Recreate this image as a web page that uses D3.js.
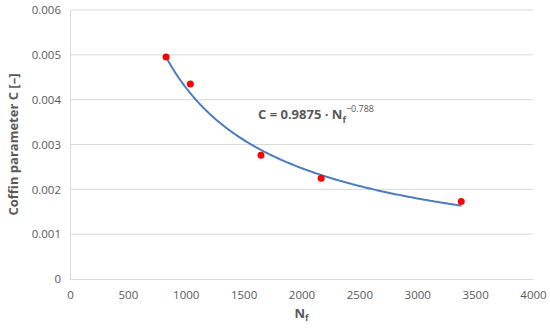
<!DOCTYPE html>
<html>
<head>
<meta charset="utf-8">
<script src="https://cdn.jsdelivr.net/npm/d3@7"></script>
<style>
  body { margin: 0; background: #fff; }
  svg text { font-family: "Open Sans", "Liberation Sans", sans-serif; }
</style>
</head>
<body>
<svg id="chart" width="550" height="331"></svg>
<script>
// measured points
const nf = [830, 1040, 1650, 2170, 3380]
const coffinC = [0.00495, 0.00435, 0.00276, 0.00225, 0.00173]
// trendline from the equation shown on the chart
const fitA = 0.9875
const fitB = -0.788
const xTicks = [0, 500, 1000, 1500, 2000, 2500, 3000, 3500, 4000]
const yTicks = [0, 0.001, 0.002, 0.003, 0.004, 0.005, 0.006]

const margin = {top: 10, right: 17, bottom: 52, left: 70}
const width = 550 - margin.left - margin.right
const height = 331 - margin.top - margin.bottom

const svg = d3.select('#chart')
const g = svg.append('g').attr('transform', `translate(${margin.left},${margin.top})`)

const x = d3.scaleLinear().domain([0, 4000]).range([0, width])
const y = d3.scaleLinear().domain([0, 0.006]).range([height, 0])

// gridlines
g.selectAll('.grid').data(yTicks.filter(d => d > 0))
  .enter().append('line')
  .attr('x1', 0).attr('x2', width)
  .attr('y1', d => y(d)).attr('y2', d => y(d))
  .attr('stroke', '#d9d9d9').attr('stroke-width', 1)

// axes
const xAxis = g.append('g').attr('transform', `translate(0,${height})`)
  .call(d3.axisBottom(x).tickValues(xTicks).tickSize(0).tickPadding(12).tickFormat(d3.format('d')))
const yAxis = g.append('g')
  .call(d3.axisLeft(y).tickValues(yTicks).tickSize(0).tickPadding(9).tickFormat(d => d === 0 ? '0' : d3.format('.3f')(d)))

;[xAxis, yAxis].forEach(a => {
  a.select('.domain').attr('stroke', '#d9d9d9').attr('stroke-width', 1)
  a.selectAll('text').attr('fill', '#595959').style('font-size', '11.5px')
})

// fit curve
const fitX = d3.range(d3.min(nf), d3.max(nf) + 1, 10)
const line = d3.line().x(d => x(d)).y(d => y(fitA * Math.pow(d, fitB)))
g.append('path').datum(fitX)
  .attr('d', line)
  .attr('fill', 'none')
  .attr('stroke', '#4a7ebb')
  .attr('stroke-width', 2)

// points
g.selectAll('circle').data(nf)
  .enter().append('circle')
  .attr('cx', d => x(d))
  .attr('cy', (d, i) => y(coffinC[i]))
  .attr('r', 3.5)
  .attr('fill', '#ff0000')

// equation label
const eq = g.append('text')
  .attr('x', 188).attr('y', 109)
  .attr('fill', '#595959')
  .style('font-size', '13px').style('font-weight', 'bold')
eq.append('tspan').text('C = 0.9875 · N')
eq.append('tspan').text('f').attr('dy', 4).style('font-size', '9px')
eq.append('tspan').text('−0.788').attr('dy', -11).style('font-size', '9px').style('font-weight', 'normal')

// axis titles
const xt = svg.append('text')
  .attr('x', margin.left + width / 2).attr('y', 318)
  .attr('text-anchor', 'middle')
  .attr('fill', '#595959')
  .style('font-size', '13px').style('font-weight', 'bold')
xt.append('tspan').text('N')
xt.append('tspan').text('f').attr('dy', 3).style('font-size', '9px')

svg.append('text')
  .attr('transform', `translate(18,${margin.top + height / 2}) rotate(-90)`)
  .attr('text-anchor', 'middle')
  .attr('fill', '#595959')
  .style('font-size', '13px').style('font-weight', 'bold')
  .text('Coffin parameter C [–]')
</script>
</body>
</html>
